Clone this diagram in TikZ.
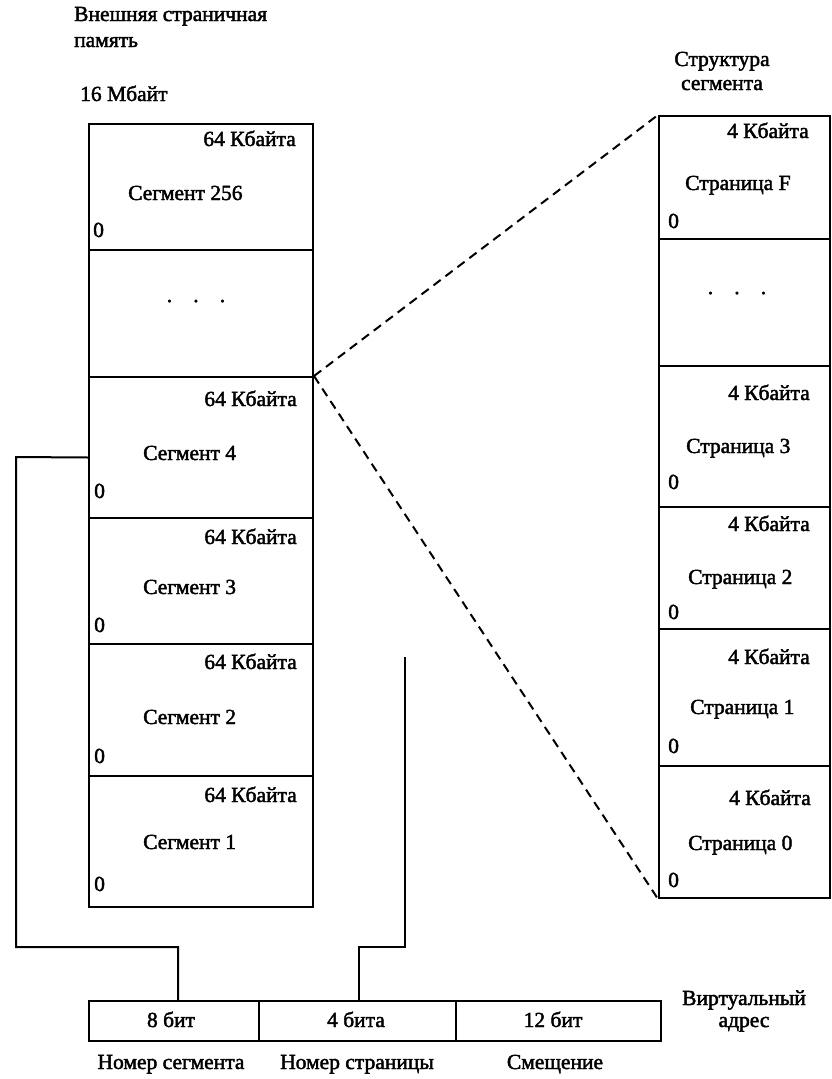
\documentclass[tikz,border=0pt]{standalone}
\usepackage{fontspec}
\setmainfont{Liberation Serif}[UprightFeatures={FakeBold=2}]
\usetikzlibrary{calc}
\begin{document}
\begin{tikzpicture}[x=1pt,y=-1pt,
  every node/.style={inner sep=0pt, font=\fontsize{21.5}{24}\selectfont},
  cell/.style={draw, line width=2pt, anchor=north west, minimum width=#1},
  segbox/.style={cell=224pt},
  pagebox/.style={cell=171pt},
  field/.style={draw, line width=2pt, anchor=north west, minimum height=40pt},
  txt/.style={anchor=base west},
  txtr/.style={anchor=base east},
  wire/.style={line width=2pt},
  guide/.style={line width=2pt, dash pattern=on 9pt off 6pt}]
\useasboundingbox (0,0) rectangle (831,1079);

% header texts
\node[txt] (ttl1) at (74,21) {Внешняя страничная};
\node[txt] (ttl2) at (74,47) {память};
\node[txt] (size) at (80,101) {16 Мбайт};
\node[anchor=base] (stl1) at (722,66) {Структура};
\node[anchor=base] (stl2) at (722,90) {сегмента};

% external paged memory: segments
\node[segbox, minimum height=126pt] (s256) at (88,123) {};
\node[segbox, minimum height=127pt] (sdot) at (88,249) {};
\node[segbox, minimum height=141pt] (s4) at (88,376) {};
\node[segbox, minimum height=126pt] (s3) at (88,517) {};
\node[segbox, minimum height=132pt] (s2) at (88,643) {};
\node[segbox, minimum height=131pt] (s1) at (88,775) {};

\node[txtr] (s256-kb) at (296,146) {64 Кбайта};
\node[txt]  (s256-nm) at (128,200) {Сегмент 256};
\node[txt]  (s256-z)  at (93,237)  {0};
\node (sdot-d) at (196,304) {·\hspace{0.9em}·\hspace{0.9em}·};
\node[txtr] (s4-kb) at (297,406) {64 Кбайта};
\node[txt]  (s4-nm) at (143,460) {Сегмент 4};
\node[txt]  (s4-z)  at (94,498)  {0};
\node[txtr] (s3-kb) at (297,544) {64 Кбайта};
\node[txt]  (s3-nm) at (143,594) {Сегмент 3};
\node[txt]  (s3-z)  at (94,632)  {0};
\node[txtr] (s2-kb) at (297,669) {64 Кбайта};
\node[txt]  (s2-nm) at (143,724) {Сегмент 2};
\node[txt]  (s2-z)  at (94,763)  {0};
\node[txtr] (s1-kb) at (297,802) {64 Кбайта};
\node[txt]  (s1-nm) at (143,849) {Сегмент 1};
\node[txt]  (s1-z)  at (94,891)  {0};

% segment structure: pages
\node[pagebox, minimum height=123pt] (pF) at (658,115) {};
\node[pagebox, minimum height=127pt] (pdot) at (658,238) {};
\node[pagebox, minimum height=141pt] (p3) at (658,365) {};
\node[pagebox, minimum height=122pt] (p2) at (658,506) {};
\node[pagebox, minimum height=137pt] (p1) at (658,628) {};
\node[pagebox, minimum height=132pt] (p0) at (658,765) {};

\node[txtr] (pF-kb) at (809,138) {4 Кбайта};
\node[txt]  (pF-nm) at (685,190) {Страница F};
\node[txt]  (pF-z)  at (668,228) {0};
\node (pdot-d) at (737,296) {·\hspace{0.9em}·\hspace{0.9em}·};
\node[txtr] (p3-kb) at (810,400) {4 Кбайта};
\node[txt]  (p3-nm) at (686,453) {Страница 3};
\node[txt]  (p3-z)  at (668,489) {0};
\node[txtr] (p2-kb) at (810,531) {4 Кбайта};
\node[txt]  (p2-nm) at (688,584) {Страница 2};
\node[txt]  (p2-z)  at (668,619) {0};
\node[txtr] (p1-kb) at (810,664) {4 Кбайта};
\node[txt]  (p1-nm) at (690,714) {Страница 1};
\node[txt]  (p1-z)  at (668,753) {0};
\node[txtr] (p0-kb) at (811,805) {4 Кбайта};
\node[txt]  (p0-nm) at (688,850) {Страница 0};
\node[txt]  (p0-z)  at (668,887) {0};

% dashed projection of one segment onto its structure
\draw[guide] (s4.north east) -- (pF.north west);
\draw[guide] (s4.north east) -- (p0.south west);

% virtual address
\node[field, minimum width=170pt] (f1) at (88,1000) {};
\node[field, minimum width=197pt] (f2) at (258,1000) {};
\node[field, minimum width=205pt] (f3) at (455,1000) {};
\node[anchor=base] (f1-t) at (171,1027) {8 бит};
\node[anchor=base] (f2-t) at (356,1027) {4 бита};
\node[anchor=base] (f3-t) at (553,1027) {12 бит};
\node[anchor=base] (va1) at (744,1005) {Виртуальный};
\node[anchor=base] (va2) at (744,1027) {адрес};

\node[anchor=base] (l1) at (171,1069) {Номер сегмента};
\node[anchor=base] (l2) at (357,1069) {Номер страницы};
\node[anchor=base] (l3) at (555,1069) {Смещение};

% wiring from the fields to the memory
\coordinate (ptop) at (405,657);
\draw[wire] ([yshift=-10pt]s4.west) -- (16,457) -- (16,947) -| ([xshift=4pt]f1.north);
\draw[wire] (ptop) -- (405,947) -| ([xshift=1.5pt]f2.north);
\end{tikzpicture}
\end{document}
